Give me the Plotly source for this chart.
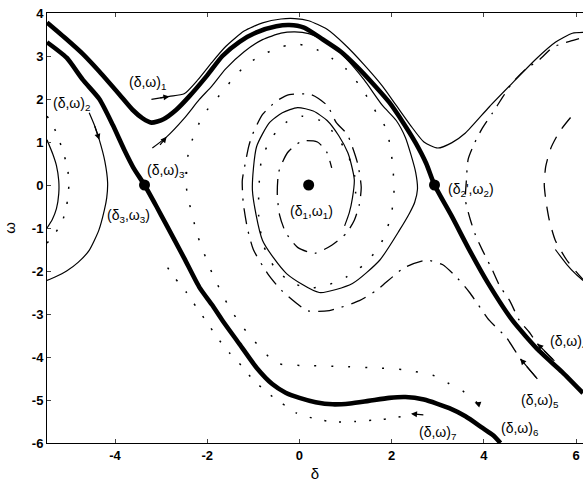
import plotly.graph_objects as go

# ---------------- data ----------------
# thick separatrix A (upper)
a_x = [-5.475, -5.05, -4.7, -4.34, -3.9, -3.62, -3.4, -3.21, -2.95, -2.67, -2.39, -2.0, -1.67, -1.3, -0.93,
       -0.5, -0.22, 0.1, 0.5, 0.9, 1.24, 1.6, 1.95, 2.25, 2.52, 2.75, 2.93, 3.3, 3.69, 4.1, 4.62, 5.2, 5.7, 6.15]
a_y = [3.78, 3.39, 3.05, 2.64, 2.1, 1.75, 1.55, 1.45, 1.53, 1.75, 2.06, 2.55, 3.0, 3.33, 3.55,
       3.69, 3.72, 3.66, 3.39, 3.1, 2.76, 2.35, 1.92, 1.45, 0.98, 0.5, 0.0, -0.72, -1.52, -2.3, -3.15, -3.86, -4.35, -4.84]
# thick separatrix B (lower)
b_x = [-5.475, -5.05, -4.7, -4.34, -4.05, -3.8, -3.6, -3.36, -3.1, -2.9, -2.5, -2.17, -1.9, -1.67, -1.3, -0.93,
       -0.59, -0.3, 0.0, 0.35, 0.72, 1.1, 1.5, 1.95, 2.3, 2.7, 3.25, 3.6, 3.97, 4.2, 4.36]
b_y = [3.32, 2.96, 2.45, 2.0, 1.4, 0.82, 0.4, 0.0, -0.5, -0.9, -1.7, -2.38, -2.78, -3.15, -3.7, -4.25,
       -4.63, -4.83, -4.95, -5.05, -5.1, -5.08, -5.02, -4.95, -4.93, -4.99, -5.19, -5.38, -5.65, -5.82, -6.0]
# thin solid trajectory from (δ,ω)1
c_x = [-3.21, -2.82, -2.5, -2.2, -1.9, -1.6, -1.2, -0.8, -0.4, -0.1, 0.2, 0.6, 1.0, 1.4, 1.8, 2.1, 2.4, 2.7,
       3.0, 3.3, 3.6, 4.12, 4.69, 5.12, 5.55, 5.92, 6.15]
c_y = [1.99, 2.06, 2.12, 2.45, 2.85, 3.22, 3.58, 3.77, 3.86, 3.87, 3.82, 3.62, 3.25, 2.8, 2.3, 1.85, 1.4, 1.0,
       0.86, 0.98, 1.21, 1.82, 2.45, 2.92, 3.32, 3.53, 3.55]
# thin solid trajectory spiralling into (δ1,ω1)
d_x = [-3.19, -2.88, -2.5, -2.17, -1.9, -1.6, -1.2, -0.8, -0.4, -0.1, 0.2, 0.6, 1.0, 1.4, 1.8, 2.1, 2.3, 2.42,
       2.52, 2.56, 2.5, 2.39, 2.17, 1.74, 1.15, 0.43, -0.28, -0.8, -1.02, -0.93, -0.65, -0.37, -0.04, 0.3, 0.6,
       0.85, 1.05, 1.12, 1.19, 1.15, 1.08, 0.98]
d_y = [0.86, 1.12, 1.55, 1.99, 2.3, 2.7, 3.1, 3.38, 3.53, 3.56, 3.52, 3.33, 2.95, 2.45, 1.85, 1.5, 1.1, 0.7,
       0.3, -0.1, -0.4, -0.65, -1.05, -1.75, -2.29, -2.5, -2.06, -1.29, -0.12, 0.89, 1.45, 1.68, 1.8, 1.72, 1.5,
       1.15, 0.75, 0.5, 0.12, -0.3, -0.65, -0.95]
# thin solid trajectory from (δ,ω)2
e_x = [-4.56, -4.45, -4.34, -4.22, -4.16, -4.18, -4.23, -4.35, -4.56, -4.8, -5.05, -5.3, -5.475]
e_y = [1.68, 1.4, 1.05, 0.55, 0.05, -0.3, -0.58, -1.05, -1.52, -1.8, -2.0, -2.14, -2.22]
# small thin solid arc at the left edge
f_x = [-5.475, -5.35, -5.27, -5.22, -5.22, -5.27, -5.36, -5.475]
f_y = [1.05, 0.72, 0.45, 0.1, -0.2, -0.55, -0.8, -1.0]
# dash-dot trajectory from (δ,ω)4
g_x = [5.53, 5.16, 4.99, 4.77, 4.56, 4.34, 4.19, 3.97, 3.82, 3.71, 3.6, 3.62, 3.66, 3.8, 3.97, 4.19, 4.4, 4.62,
       4.9, 5.21, 5.49, 5.86, 6.15]
g_y = [-4.09, -3.69, -3.43, -3.15, -2.69, -2.34, -1.99, -1.52, -1.17, -0.82, -0.35, 0.1, 0.6, 0.98, 1.33, 1.68,
       2.03, 2.38, 2.69, 2.92, 3.2, 3.34, 3.43]
# dash-dot trajectory from (δ,ω)5
h_x = [5.16, 4.79, 4.49, 4.12, 3.69, 3.43, 3.1, 2.75, 2.28, 1.67, 1.3, 0.65, 0.17, -0.39, -0.69, -1.0, -1.13,
       -1.22, -1.24, -1.19, -1.1, -1.02, -0.8, -0.5, -0.22, 0.26, 0.6, 0.8, 1.04, 1.26, 1.34, 1.3, 1.19, 1.02,
       0.7, 0.33, -0.04, -0.3, -0.43, -0.48, -0.45, -0.26, 0.05, 0.39, 0.59, 0.7]
h_y = [-4.51, -4.04, -3.55, -3.15, -2.5, -2.17, -1.85, -1.75, -1.92, -2.45, -2.69, -2.92, -2.92, -2.45, -2.06,
       -1.5, -1.0, -0.4, 0.1, 0.42, 0.9, 1.17, 1.64, 1.95, 2.1, 2.1, 1.85, 1.45, 1.17, 0.51, -0.05, -0.45, -0.82,
       -1.12, -1.4, -1.59, -1.45, -1.1, -0.7, -0.23, 0.3, 0.75, 1.02, 1.0, 0.77, 0.4]
# dotted trajectory from (δ,ω)6
k_x = [3.86, 3.54, 3.21, 2.93, 2.3, 1.6, 0.9, 0.2, -0.5, -1.04, -1.3, -1.52, -1.89, -2.2, -2.45, -2.4, -2.1,
       -1.63, -1.37, -1.08, -0.7, -0.37, 0.0, 0.37, 0.7, 1.02, 1.35, 1.67, 1.89, 2.02, 2.05, 1.98, 1.75, 1.4,
       1.0, 0.6, 0.2, -0.2, -0.55, -0.78, -0.88, -0.88, -0.82, -0.6, -0.3, 0.05, 0.45, 0.8, 1.05, 1.2, 1.22]
k_y = [-5.07, -4.79, -4.6, -4.44, -4.3, -4.25, -4.22, -4.2, -4.14, -3.55, -3.2, -2.85, -2.06, -1.2, -0.07, 0.8,
       1.6, 2.22, 2.57, 2.85, 3.08, 3.22, 3.27, 3.15, 2.95, 2.69, 2.25, 1.68, 1.29, 0.5, -0.2, -0.75, -1.4, -1.85,
       -2.15, -2.33, -2.4, -2.25, -1.9, -1.4, -0.8, -0.1, 0.6, 1.1, 1.45, 1.6, 1.5, 1.15, 0.7, 0.2, -0.3]
# dotted trajectory from (δ,ω)7
m_x = [2.52, 1.8, 1.2, 0.72, 0.28, -0.07, -0.39, -0.72, -1.02, -1.26, -1.52, -1.78, -2.0, -2.23, -2.45, -2.71, -3.0]
m_y = [-5.33, -5.45, -5.5, -5.51, -5.42, -5.3, -5.07, -4.81, -4.51, -4.2, -3.9, -3.55, -3.2, -2.85, -2.5, -2.15, -1.7]
# dotted arc around the left focus
n_x = [-5.475, -5.38, -5.27, -5.14, -5.03, -5.0, -5.03, -5.05, -5.16, -5.36, -5.475]
n_y = [1.6, 1.45, 1.21, 0.82, 0.4, 0.0, -0.3, -0.51, -0.89, -1.21, -1.35]
# dashed arc around the right focus
p_x = [5.88, 5.64, 5.45, 5.34, 5.31, 5.35, 5.42, 5.55, 5.8, 6.15]
p_y = [1.57, 1.24, 0.85, 0.42, 0.0, -0.4, -0.82, -1.29, -1.75, -2.2]
# thin solid piece at the right edge
q_x = [5.55, 5.8, 6.0, 6.15]
q_y = [-1.5, -1.85, -2.08, -2.22]

# equilibrium points
eq_x = [0.2, -3.36, 2.93]
eq_y = [0.0, 0.0, 0.0]

# labels
lab_text = ["(δ,ω)<sub>1</sub>", "(δ,ω)<sub>2</sub>", "(δ,ω)<sub>3'</sub>", "(δ<sub>3</sub>,ω<sub>3</sub>)",
            "(δ<sub>1</sub>,ω<sub>1</sub>)", "(δ<sub>2</sub>',ω<sub>2</sub>)", "(δ,ω)<sub>4</sub>",
            "(δ,ω)<sub>5</sub>", "(δ,ω)<sub>6</sub>", "(δ,ω)<sub>7</sub>"]
lab_x = [-3.3, -4.95, -2.89, -3.71, 0.26, 3.73, 5.38, 5.21, 4.79, 2.99]
lab_y = [2.38, 1.89, 0.33, -0.72, -0.63, -0.12, -3.64, -5.02, -5.68, -5.77]
lab_anchor = ["center"] * 6 + ["left"] + ["center"] * 3

# arrowheads (head, tail)
arr_hx = [-2.82, -2.88, -4.34, 5.16, 4.79, 2.42, 3.8]
arr_hy = [2.06, 1.12, 1.05, -3.69, -4.04, -5.32, -5.06]
arr_tx = [-3.05, -3.05, -4.45, 5.53, 5.16, 2.72, 3.95]
arr_ty = [2.02, 0.9, 1.4, -4.09, -4.51, -5.35, -5.12]

# ---------------- figure ----------------
fig = go.Figure()

def add(x, y, width=1.2, dash="solid"):
    fig.add_trace(go.Scatter(x=x, y=y, mode="lines", line=dict(color="black", width=width, dash=dash,
                                                                shape="spline", smoothing=0.6),
                             hoverinfo="skip", showlegend=False))

add(a_x, a_y, 4.6)
add(b_x, b_y, 4.6)
add(c_x, c_y, 1.2)
add(d_x, d_y, 1.2)
add(e_x, e_y, 1.2)
add(f_x, f_y, 1.2)
add(q_x, q_y, 1.2)
add(g_x, g_y, 1.3, "14px,8px,2px,8px")
add(h_x, h_y, 1.3, "16px,8px,2px,8px")
add(k_x, k_y, 1.5, "2px,15px")
add(m_x, m_y, 1.5, "2px,13px")
add(n_x, n_y, 1.5, "2px,13px")
add(p_x, p_y, 1.3, "14px,10px")

fig.add_trace(go.Scatter(x=eq_x, y=eq_y, mode="markers", marker=dict(color="black", size=11),
                         hoverinfo="skip", showlegend=False))

for t, x, y, an in zip(lab_text, lab_x, lab_y, lab_anchor):
    fig.add_annotation(x=x, y=y, text=t, showarrow=False, xanchor=an, yanchor="middle",
                       font=dict(family="Liberation Sans, Arial", size=14, color="black"))

for hx, hy, tx, ty in zip(arr_hx, arr_hy, arr_tx, arr_ty):
    fig.add_annotation(x=hx, y=hy, ax=tx, ay=ty, xref="x", yref="y", axref="x", ayref="y",
                       text="", showarrow=True, arrowhead=2, arrowsize=1.0, arrowwidth=1.2,
                       arrowcolor="black")

tickfont = dict(family="Liberation Sans, Arial", size=13, color="black", weight="bold")
fig.update_xaxes(range=[-5.475, 6.15], tickvals=[-4, -2, 0, 2, 4, 6],
                 ticktext=["-4", "-2", "0", "2", "4", "6"], ticks="inside", ticklen=4,
                 showline=True, linecolor="black", linewidth=1, mirror="ticks", showgrid=False,
                 zeroline=False, tickfont=tickfont,
                 title=dict(text="δ", font=dict(family="Liberation Sans, Arial", size=15, color="black"),
                            standoff=6))
fig.update_yaxes(range=[-6, 4], tickvals=[4, 3, 2, 1, 0, -1, -2, -3, -4, -5, -6],
                 ticktext=["4", "3", "2", "1", "0", "-1", "-2", "-3", "-4", "-5", "-6"],
                 ticks="inside", ticklen=4, showline=True, linecolor="black", linewidth=1,
                 showgrid=False, zeroline=False, tickfont=tickfont,
                 title=dict(text="ω", font=dict(family="Liberation Sans, Arial", size=15, color="black"),
                            standoff=12))
fig.update_layout(width=583, height=487, margin=dict(l=47, r=0, t=13, b=44),
                  paper_bgcolor="white", plot_bgcolor="white")

fig.write_html("out.html")
